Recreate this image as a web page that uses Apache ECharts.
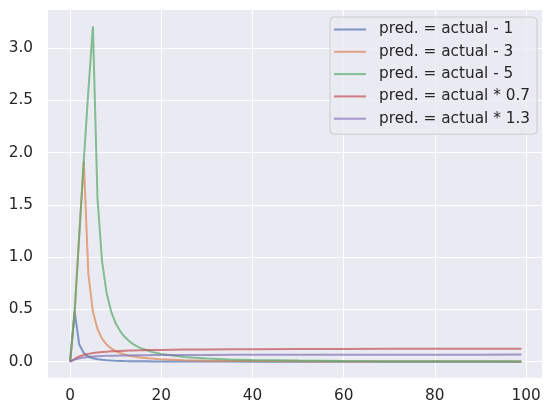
<!DOCTYPE html>
<html>
<head>
<meta charset="utf-8">
<script src="https://cdn.jsdelivr.net/npm/echarts@6/dist/echarts.min.js"></script>
<style>
html,body{margin:0;padding:0;background:#ffffff;}
#chart{width:553px;height:417px;}
</style>
</head>
<body>
<div id="chart"></div>
<script>
const actual = [0,1,2,3,4,5,6,7,8,9,10,11,12,13,14,15,16,17,18,19,20,25,30,35,40,50,60,70,80,90,99];
const predMinus1 = [0,0.480,0.164,0.083,0.050,0.033,0.024,0.018,0.014,0.011,0.009,0.0076,0.0064,0.0055,0.0048,0.0042,0.0037,0.0033,0.0029,0.0026,0.0024,0.0015,0.0011,0.0008,0.0006,0.0004,0.0003,0.0002,0.00015,0.00012,0.0001];
const predMinus3 = [0,0.480,1.207,1.922,0.840,0.480,0.313,0.221,0.164,0.127,0.101,0.083,0.069,0.058,0.050,0.043,0.038,0.033,0.030,0.026,0.024,0.015,0.010,0.0076,0.0058,0.0037,0.0025,0.0019,0.0014,0.0011,0.0009];
const predMinus5 = [0,0.480,1.207,1.922,2.590,3.210,1.569,0.962,0.658,0.480,0.367,0.291,0.236,0.195,0.164,0.140,0.121,0.106,0.093,0.083,0.074,0.046,0.031,0.022,0.017,0.011,0.0073,0.0053,0.0041,0.0032,0.0026];
const predTimes07 = [0,0.026,0.050,0.065,0.075,0.083,0.088,0.093,0.096,0.099,0.101,0.103,0.105,0.107,0.108,0.109,0.110,0.111,0.112,0.1125,0.113,0.116,0.118,0.119,0.120,0.121,0.122,0.123,0.1235,0.124,0.124];
const predTimes13 = [0,0.020,0.033,0.041,0.046,0.050,0.052,0.054,0.056,0.057,0.058,0.059,0.060,0.060,0.061,0.061,0.062,0.062,0.063,0.063,0.063,0.064,0.065,0.0655,0.066,0.0665,0.067,0.067,0.067,0.0675,0.068];
const xTicks = [0,20,40,60,80,100];
const yTicks = [0,0.5,1.0,1.5,2.0,2.5,3.0];
const seriesNames = ['pred. = actual - 1','pred. = actual - 3','pred. = actual - 5','pred. = actual * 0.7','pred. = actual * 1.3'];
const seriesValues = [predMinus1, predMinus3, predMinus5, predTimes07, predTimes13];
const colors = ['rgba(76,114,176,0.7)','rgba(221,132,82,0.7)','rgba(85,168,104,0.7)','rgba(196,78,82,0.7)','rgba(129,114,179,0.7)'];

const FONT = 'DejaVu Sans';
const chart = echarts.init(document.getElementById('chart'), null, {renderer:'canvas'});
chart.setOption({
  animation: false,
  backgroundColor: '#ffffff',
  color: colors,
  grid: {left: 48, top: 10, width: 494, height: 367.7, backgroundColor: '#eaeaf2', show: true, borderWidth: 0},
  xAxis: {
    type: 'value', min: -4.85, max: 103.5,
    axisLine: {show: false},
    axisTick: {show: false, customValues: xTicks},
    splitLine: {show: true, lineStyle: {color: '#ffffff', width: 1}},
    axisLabel: {customValues: xTicks, color: '#262626', fontFamily: FONT, fontSize: 15.3, margin: 11}
  },
  yAxis: {
    type: 'value', min: -0.153, max: 3.365,
    axisLine: {show: false},
    axisTick: {show: false, customValues: yTicks},
    splitLine: {show: true, lineStyle: {color: '#ffffff', width: 1}},
    axisLabel: {customValues: yTicks, color: '#262626', fontFamily: FONT, fontSize: 15.3, margin: 15,
      formatter: v => v.toFixed(1)}
  },
  legend: {
    orient: 'vertical', left: 330, top: 17,
    backgroundColor: 'rgba(234,234,242,0.8)', borderColor: '#cccccc', borderWidth: 1, borderRadius: 4,
    padding: [4, 7, 7, 4],
    icon: 'rect', itemWidth: 32, itemHeight: 2, itemGap: 5.3,
    textStyle: {color: '#262626', fontFamily: FONT, fontSize: 15.3, lineHeight: 17, padding: [0,0,0,8]},
    data: seriesNames
  },
  series: seriesNames.map((name, i) => ({
    name: name, type: 'line', showSymbol: false, symbol: 'none',
    lineStyle: {width: 2, color: colors[i]},
    itemStyle: {color: colors[i]},
    data: actual.map((x, j) => [x, seriesValues[i][j]])
  }))
});
</script>
</body>
</html>
